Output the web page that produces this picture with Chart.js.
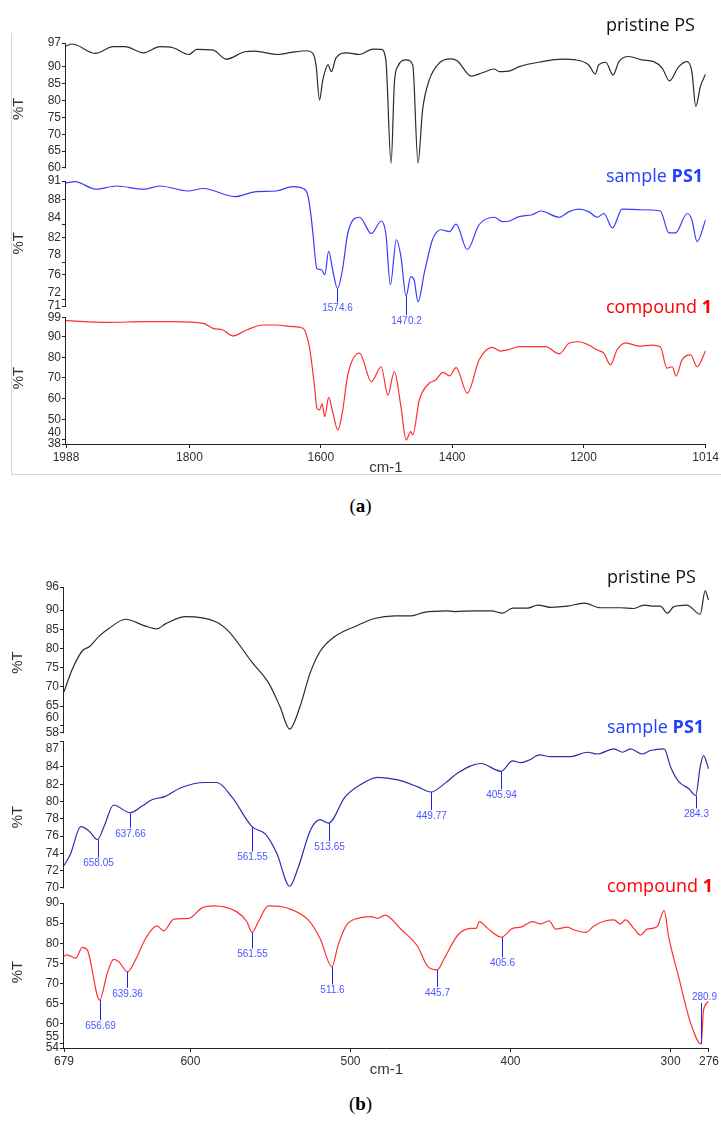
<!DOCTYPE html>
<html>
<head>
<meta charset="utf-8">
<script src="https://cdn.jsdelivr.net/npm/chart.js@4.4.0/dist/chart.umd.min.js"></script>
<style>
  body { margin: 0; background: #fff; }
  #page { position: relative; width: 721px; height: 1128px; overflow: hidden; }
  canvas { position: absolute; left: 0; }
  .name { position: absolute; font-family: 'Open Sans', sans-serif; font-size: 18px; line-height: 18px; white-space: nowrap; }
  .cap { position: absolute; left: 0; width: 721px; text-align: center; font-family: 'Liberation Serif', serif; font-size: 19px; }
  #frame { position: absolute; left: 11px; top: 33px; width: 712px; height: 441px; border-left: 1px solid #d6d6d6; border-bottom: 1px solid #d6d6d6; }
</style>
</head>
<body>
<div id="page">
  <div id="frame"></div>
  <canvas id="chart-a" width="721" height="480" style="top:0"></canvas>
  <canvas id="chart-b" width="721" height="554" style="top:530px"></canvas>

  <div class="name" style="left:606px;top:15px;color:#111">pristine PS</div>
  <div class="name" style="left:606px;top:166px;color:#2340ff">sample <b>PS1</b></div>
  <div class="name" style="left:606px;top:297px;color:#ff0000">compound <b>1</b></div>
  <div class="cap" style="top:495px">(<b>a</b>)</div>

  <div class="name" style="left:607px;top:567px;color:#111">pristine PS</div>
  <div class="name" style="left:607px;top:717px;color:#2340ff">sample <b>PS1</b></div>
  <div class="name" style="left:607px;top:876px;color:#ff0000">compound <b>1</b></div>
  <div class="cap" style="top:1093px">(<b>b</b>)</div>
</div>
<script>
// ---- panel (a): 1988-1014 cm-1 ----
const wnA_ps = [1988, 1979, 1972, 1943, 1916, 1898, 1870, 1845, 1825, 1801, 1789, 1764, 1744, 1716, 1701, 1665, 1645, 1622, 1612, 1607, 1602, 1597, 1589, 1584, 1577, 1561, 1541, 1521, 1508, 1501, 1493, 1488, 1483, 1470, 1460, 1452, 1445, 1435, 1420, 1402, 1392, 1371, 1354, 1336, 1328, 1311, 1298, 1263, 1232, 1212, 1192, 1182, 1177, 1166, 1155, 1146, 1131, 1111, 1093, 1080, 1069, 1055, 1042, 1035, 1029, 1022, 1014];
const tA_ps = [96.1, 96.7, 96.4, 93.9, 95.9, 95.9, 94.1, 95.9, 95.6, 93.6, 95.1, 94.9, 92.2, 94.4, 94.6, 93.6, 94.2, 94.7, 93.9, 90, 80.1, 86, 90.5, 88.5, 92.5, 94.1, 93.6, 95.2, 95.1, 92, 61.4, 85.1, 90, 92, 90.5, 61.4, 77.2, 86, 91, 92.3, 91.7, 87.2, 88.2, 89.3, 88.5, 88.8, 90, 91.5, 92.2, 92, 90.5, 87.8, 90.5, 91.3, 87.5, 91.5, 93, 92, 91.5, 89.5, 85.8, 90, 91.5, 88.5, 78.2, 84.1, 87.8];

const wnA_ps1 = [1988, 1974, 1943, 1911, 1870, 1845, 1802, 1779, 1731, 1698, 1668, 1643, 1627, 1620, 1615, 1612, 1606, 1599, 1594, 1588, 1582, 1574.6, 1567, 1559, 1541, 1523, 1508, 1501, 1494, 1485, 1478, 1470.2, 1463, 1458, 1452, 1442, 1430, 1417, 1404, 1394, 1377, 1359, 1336, 1323, 1313, 1298, 1278, 1265, 1237, 1222, 1207, 1192, 1179, 1169, 1156, 1141, 1113, 1083, 1070, 1060, 1042, 1035, 1027, 1014];
const tA_ps1 = [90.7, 90.9, 89.7, 90.2, 89.7, 90.2, 89.4, 89.8, 88.5, 89.3, 89.4, 90.1, 89.8, 88.8, 85.5, 82.6, 77, 76.8, 76, 79.8, 76.8, 73.8, 76.8, 82.6, 85.2, 82.6, 84.6, 82.6, 74.4, 81.6, 78.9, 72.6, 75.7, 75.2, 71.7, 76.5, 81.6, 83.2, 82.9, 84.1, 80, 84, 85.2, 84.5, 84.6, 85.3, 85.6, 86.2, 85.2, 86.1, 86.5, 86.1, 85.2, 85.8, 83.5, 86.5, 86.4, 86.2, 82.7, 82.7, 85.8, 84.8, 81.3, 84.8];

const wnA_c1 = [1988, 1926, 1865, 1825, 1779, 1764, 1749, 1734, 1713, 1688, 1668, 1643, 1627, 1618, 1615, 1609, 1606, 1602, 1598, 1594, 1588, 1582, 1574, 1567, 1559, 1541, 1523, 1508, 1498, 1488, 1478, 1470, 1463, 1460, 1450, 1435, 1425, 1414, 1404, 1394, 1377, 1359, 1339, 1326, 1313, 1298, 1278, 1258, 1237, 1222, 1207, 1192, 1179, 1169, 1159, 1149, 1136, 1116, 1096, 1083, 1073, 1065, 1059, 1050, 1037, 1027, 1014];
const tA_c1 = [97.7, 96.9, 97.2, 97.2, 96.4, 94, 93.2, 90.3, 93.2, 95.6, 95.6, 94.8, 94, 86, 80, 64.2, 55.3, 54.5, 57.4, 51.2, 60.6, 53.6, 44.8, 53.6, 71.4, 82, 68.2, 75.4, 61.7, 73, 56.1, 40, 44, 42.4, 59.3, 67.4, 69, 72.7, 71, 75, 62.6, 78.7, 84.8, 83, 83.8, 85.1, 85.1, 85.1, 81.6, 86.8, 87.5, 85.9, 83.5, 81.9, 76.3, 83.5, 87, 85.4, 85.9, 85.1, 74.7, 75.4, 70.9, 78.7, 81.1, 75.4, 83.2];

const xTicksA = [1988, 1800, 1600, 1400, 1200, 1014];
const yTicksA1 = [97, 90, 85, 80, 75, 70, 65, 60];
const yTicksA2 = [91, 88, 84, 82, 78, 76, 72, 71];
const yTicksA3 = [99, 90, 80, 70, 60, 50, 40, 38];

const peaksA_ps1 = [1574.6, 1470.2];
const peaksA_ps1T = [73.8, 72.6];

// ---- panel (b): 679-276 cm-1 ----
const wnB_ps = [679, 674, 667.5, 663, 657, 651, 640.5, 628, 621, 615.6, 603, 584.5, 576, 561.7, 551, 544, 538, 531.6, 525.3, 519, 509.8, 495, 485, 472.4, 462, 454, 440, 435, 422.6, 412, 405, 398.7, 389.4, 383, 375, 364.5, 354, 343.8, 331.3, 323, 316.7, 310.5, 306.4, 302, 298, 289.8, 281.5, 278.4, 276.3];
const tB_ps = [68.7, 74.4, 79.4, 80.5, 83.2, 85.2, 87.6, 85.8, 85.1, 86.4, 88.3, 87, 84.4, 76.5, 70.9, 64.8, 59, 64.8, 73.5, 79.2, 83.1, 86.1, 87.8, 88.5, 88.5, 89.4, 89.8, 89.6, 89.8, 89.8, 89.2, 90.5, 90.5, 91.3, 90.7, 91, 91.8, 90.6, 90.6, 90.4, 91.3, 91, 91, 89.2, 90.9, 91.3, 88.9, 95, 92.6];

const wnB_ps1 = [679, 675, 668.5, 663.4, 658.05, 654, 648, 637.66, 630, 624, 615.6, 606, 590.7, 583.5, 574, 561.55, 553, 546, 538, 532.6, 525, 519, 513.65, 503.5, 495, 483, 470.4, 458, 449.77, 441, 433, 418.5, 405.94, 398.7, 393.6, 388.3, 382, 375, 362.4, 352, 345.8, 335.4, 330, 325, 317.8, 312.6, 304, 300, 294.9, 288.7, 284.3, 281.5, 279.4, 276.3];
const tB_ps1 = [72.6, 73.9, 77.1, 76.6, 75.6, 77.1, 79.6, 78.7, 79.5, 80.2, 80.6, 81.6, 82.2, 82.2, 80.5, 77.1, 76.2, 74, 70.2, 72.4, 76.7, 77.9, 77.5, 80.5, 81.8, 82.8, 82.5, 81.7, 81.1, 82.1, 83.3, 84.4, 83.5, 84.7, 84.5, 84.8, 85.4, 85.2, 85.2, 85.7, 85.5, 86.1, 85.7, 86.1, 85.5, 85.9, 86.1, 84, 82.3, 81.5, 80.7, 84, 85.3, 83.8];

const wnB_c1 = [679, 677, 671.7, 667.5, 664.4, 656.69, 652, 648, 644.7, 639.36, 634.3, 628, 621, 616.7, 610.4, 601, 592.8, 585.5, 571, 564.8, 561.55, 557.5, 551.3, 539, 526.4, 519, 511.6, 507.7, 502.5, 495.3, 487, 483, 478.6, 468, 458, 451.7, 445.7, 441.3, 433, 424.7, 421.5, 419.5, 414.3, 405.6, 398.7, 393.6, 386.3, 381, 375.9, 371.8, 364.5, 360.3, 353, 347.9, 340.6, 335.4, 331.3, 328.2, 323, 318.8, 314.7, 308.5, 304, 301.2, 295, 287.7, 280.9, 279.4, 276.3];
const tB_c1 = [76.8, 77.1, 76.3, 79, 78.3, 65.9, 72.5, 76, 75.4, 72.9, 75.9, 81.2, 84.3, 83.1, 86, 86.2, 88.8, 89.3, 87.8, 85.4, 82.7, 85.4, 89.3, 88.7, 85.8, 81.2, 74.2, 79.6, 84.5, 86.2, 86.6, 86.2, 87, 83.3, 79.2, 74.2, 73.4, 76.3, 82, 83.7, 83.7, 85.4, 83.7, 81.5, 83.7, 84, 85.4, 84.8, 85.6, 83.5, 84, 83.3, 82.7, 84.3, 85.6, 85.8, 84.8, 85.8, 83.7, 82, 83.5, 84.1, 88.1, 81.6, 71.7, 60.5, 55, 63.4, 65.5];

const xTicksB = [679, 600, 500, 400, 300, 276];
const yTicksB1 = [96, 90, 85, 80, 75, 70, 65, 60, 58];
const yTicksB2 = [87, 84, 82, 80, 78, 76, 74, 72, 70];
const yTicksB3 = [90, 85, 80, 75, 70, 65, 60, 55, 54];

const peaksB_ps1 = [658.05, 637.66, 561.55, 513.65, 449.77, 405.94, 284.3];
const peaksB_ps1T = [75.6, 78.7, 77.1, 77.5, 81.1, 83.5, 80.7];
const peaksB_c1 = [656.69, 639.36, 561.55, 511.6, 445.7, 405.6, 280.9];
const peaksB_c1T = [65.9, 72.9, 82.7, 74.2, 73.4, 81.5, 55];

Chart.defaults.font.family = "'Liberation Sans', Arial, sans-serif";

const pts = (xs, ys) => xs.map((x, i) => ({ x, y: ys[i] }));
const AXIS = '#222';
const TICK = '#2e2e3a';

function strip(o) {
  return {
    type: 'linear', position: 'left', stack: 'trace', stackWeight: o.h, weight: o.order,
    min: o.min, max: o.max,
    afterBuildTicks: s => { s.ticks = o.ticks.map(v => ({ value: v })); },
    afterFit: s => { s.width = o.width; },
    border: { display: false },
    grid: { drawOnChartArea: false, tickLength: 4, color: AXIS },
    ticks: {
      autoSkip: false, padding: 1, color: TICK, font: { size: 12 },
      callback: v => (o.up || []).includes(v) ? [String(v), ''] : (o.down || []).includes(v) ? ['', String(v)] : String(v)
    },
    title: { display: true, text: '%T', color: '#333', font: { size: 15 }, padding: { top: o.titlePad, bottom: 0 } }
  };
}

function xAxis(o) {
  return {
    type: 'linear', position: 'bottom', reverse: true, min: o.min, max: o.max,
    afterBuildTicks: s => { s.ticks = o.ticks.map(v => ({ value: v })); },
    afterFit: s => { s.height = 36; },
    border: { display: true, color: AXIS, width: 1 },
    grid: { drawOnChartArea: false, tickLength: 4, color: AXIS },
    ticks: { autoSkip: false, maxRotation: 0, padding: 2, color: TICK, font: { size: 12 }, callback: v => String(v) },
    title: { display: true, text: 'cm-1', color: '#333', font: { size: 15 }, padding: { top: 0, bottom: o.titlePad } }
  };
}

// vertical axis segments for each strip + peak markers
const stripLines = {
  id: 'stripLines',
  afterDraw(chart, args, opts) {
    const ctx = chart.ctx;
    ctx.save();
    ctx.strokeStyle = AXIS;
    ctx.lineWidth = 1;
    ['y1', 'y2', 'y3'].forEach(id => {
      const s = chart.scales[id];
      const vals = s.ticks.map(t => t.value);
      const x = Math.round(s.right) - 0.5;
      ctx.beginPath();
      ctx.moveTo(x, s.getPixelForValue(Math.max(...vals)));
      ctx.lineTo(x, s.getPixelForValue(Math.min(...vals)) + 0.5);
      ctx.stroke();
    });
    ctx.font = "10px 'Liberation Sans', Arial, sans-serif";
    ctx.textAlign = 'center';
    (opts.sets || []).forEach(set => {
      const ys = chart.scales[set.axis];
      set.wn.forEach((w, i) => {
        const px = Math.round(chart.scales.x.getPixelForValue(w)) + 0.5;
        const py = ys.getPixelForValue(set.t[i]);
        const len = set.len[i];
        ctx.strokeStyle = '#2020ff';
        ctx.beginPath();
        ctx.moveTo(px, py);
        ctx.lineTo(px, py + len);
        ctx.stroke();
        ctx.fillStyle = '#4b57ff';
        ctx.textBaseline = len > 0 ? 'top' : 'bottom';
        ctx.fillText(String(w), px + (set.dx ? set.dx[i] : 0), py + len + (len > 0 ? 1 : -1));
      });
    });
    ctx.restore();
  }
};

function line(data, axis, color) {
  return { data, yAxisID: axis, borderColor: color, borderWidth: 1.2, pointRadius: 0, cubicInterpolationMode: 'monotone', fill: false };
}

new Chart(document.getElementById('chart-a'), {
  type: 'line',
  data: {
    datasets: [
      line(pts(wnA_ps, tA_ps), 'y1', '#2b2b2b'),
      line(pts(wnA_ps1, tA_ps1), 'y2', '#3a3aff'),
      line(pts(wnA_c1, tA_c1), 'y3', '#ff2d2d')
    ]
  },
  options: {
    responsive: false, animation: false,
    layout: { padding: { left: 0, top: 43, right: 14, bottom: 0 } },
    plugins: {
      legend: { display: false }, tooltip: { enabled: false },
      stripLines: { sets: [{ axis: 'y2', wn: peaksA_ps1, t: peaksA_ps1T, len: [14, 19] }] }
    },
    scales: {
      x: xAxis({ min: 1014, max: 1988, ticks: xTicksA, titlePad: 3 }),
      y1: strip({ min: 58.07, max: 97, ticks: yTicksA1, h: 131.5, order: 3, width: 66, titlePad: 10 }),
      y2: strip({ min: 70.04, max: 92.04, ticks: yTicksA2, h: 137.5, order: 2, width: 66, titlePad: 10, up: [84, 78, 72] }),
      y3: strip({ min: 38, max: 101.9, ticks: yTicksA3, h: 132, order: 1, width: 66, titlePad: 10, up: [40] })
    }
  },
  plugins: [stripLines]
});

new Chart(document.getElementById('chart-b'), {
  type: 'line',
  data: {
    datasets: [
      line(pts(wnB_ps, tB_ps), 'y1', '#2b2b2b'),
      line(pts(wnB_ps1, tB_ps1), 'y2', '#2e2ea8'),
      line(pts(wnB_c1, tB_c1), 'y3', '#ff3030')
    ]
  },
  options: {
    responsive: false, animation: false,
    layout: { padding: { left: 0, top: 57, right: 9, bottom: 0 } },
    plugins: {
      legend: { display: false }, tooltip: { enabled: false },
      stripLines: {
        sets: [
          { axis: 'y2', wn: peaksB_ps1, t: peaksB_ps1T, len: [18, 15, 25, 18, 18, 18, 13] },
          { axis: 'y3', wn: peaksB_c1, t: peaksB_c1T, len: [20, 16, 16, 18, 17, 20, -41], dx: [0, 0, 0, 0, 0, 0, 3] }
        ]
      }
    },
    scales: {
      x: xAxis({ min: 276, max: 679, ticks: xTicksB, titlePad: 5 }),
      y1: strip({ min: 56.68, max: 96, ticks: yTicksB1, h: 151, order: 3, width: 64, titlePad: 9, up: [60] }),
      y2: strip({ min: 69.07, max: 87.35, ticks: yTicksB2, h: 158, order: 2, width: 64, titlePad: 9, down: [87] }),
      y3: strip({ min: 54, max: 91.74, ticks: yTicksB3, h: 152, order: 1, width: 64, titlePad: 9, up: [55] })
    }
  },
  plugins: [stripLines]
});
</script>
</body>
</html>
